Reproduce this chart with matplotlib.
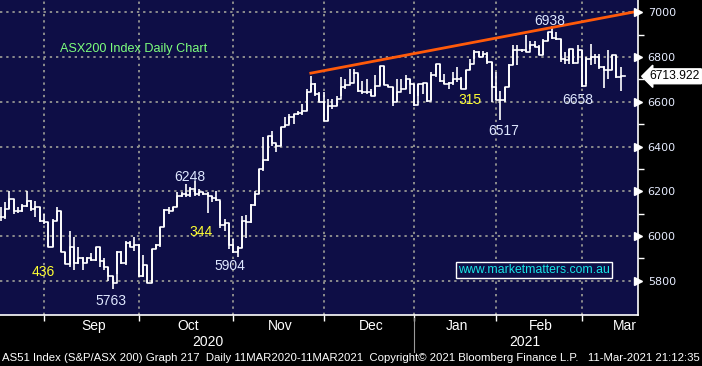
import matplotlib
matplotlib.use("Agg")
import matplotlib.pyplot as plt
from matplotlib import font_manager
from matplotlib.transforms import blended_transform_factory

# ---------------- data ----------------
highs = [6128, 6151, 6200, 6166, 6128, 6143, 6200, 6161, 6158, 6128,
         6098, 6061, 6076, 6128, 6110, 5930, 6024, 5995, 5950, 5905,
         5905, 5925, 5950, 5950, 5900, 5860, 5822, 5934, 5934, 5976,
         5976, 5994, 5965, 5915, 5870, 5942, 5964, 6039, 6121, 6128,
         6131, 6195, 6195, 6233, 6218, 6248, 6210, 6195, 6195, 6180,
         6202, 6157, 6075, 6060, 5986, 5956, 6090, 6093, 6143, 6202,
         6300, 6441, 6449, 6471, 6411, 6486, 6531, 6546, 6546, 6561,
         6591, 6658, 6715, 6685, 6643, 6643, 6613, 6613, 6628, 6710,
         6703, 6748, 6745, 6725, 6695, 6703, 6658, 6718, 6760, 6760,
         6673, 6665, 6703, 6703, 6721, 6703, 6680, 6680, 6683, 6683,
         6733, 6770, 6770, 6725, 6688, 6733, 6755, 6710, 6740, 6793,
         6830, 6827, 6827, 6822, 6778, 6733, 6650, 6665, 6770, 6852,
         6852, 6837, 6897, 6872, 6872, 6852, 6882, 6912, 6938, 6912,
         6882, 6822, 6837, 6837, 6852, 6833, 6800, 6860, 6815, 6815,
         6758, 6833, 6807, 6807, 6755]
lows = [6069, 6076, 6121, 6098, 6101, 6106, 6128, 6113, 6083, 6061,
        6054, 5949, 5949, 6069, 5927, 5874, 5860, 5850, 5874, 5850,
        5880, 5890, 5890, 5860, 5850, 5800, 5763, 5829, 5874, 5870,
        5950, 5934, 5815, 5815, 5790, 5790, 5942, 5949, 6039, 6098,
        6110, 6128, 6173, 6173, 6173, 6180, 6180, 6185, 6101, 6150,
        6157, 6038, 6023, 5941, 5926, 5905, 5948, 5989, 6060, 6135,
        6187, 6292, 6337, 6404, 6374, 6404, 6486, 6501, 6501, 6539,
        6539, 6561, 6643, 6628, 6598, 6516, 6516, 6568, 6583, 6628,
        6658, 6685, 6725, 6643, 6636, 6636, 6628, 6628, 6676, 6673,
        6665, 6583, 6598, 6658, 6658, 6636, 6583, 6628, 6636, 6598,
        6606, 6710, 6688, 6680, 6658, 6673, 6688, 6658, 6658, 6740,
        6793, 6800, 6800, 6770, 6598, 6606, 6519, 6598, 6665, 6763,
        6763, 6822, 6822, 6837, 6845, 6807, 6807, 6872, 6882, 6875,
        6778, 6770, 6770, 6770, 6785, 6666, 6680, 6763, 6770, 6748,
        6663, 6703, 6740, 6707, 6648]
closes = [6084, 6121, 6166, 6113, 6113, 6136, 6158, 6121, 6128, 6069,
          6061, 5952, 6069, 6110, 5927, 5874, 5950, 5880, 5900, 5880,
          5900, 5895, 5950, 5890, 5860, 5820, 5790, 5930, 5880, 5970,
          5950, 5960, 5820, 5870, 5792, 5940, 5960, 6039, 6115, 6110,
          6128, 6180, 6190, 6185, 6210, 6190, 6195, 6190, 6180, 6170,
          6160, 6048, 6060, 5959, 5929, 5948, 6068, 6063, 6138, 6187,
          6300, 6342, 6449, 6416, 6404, 6486, 6497, 6531, 6546, 6550,
          6561, 6643, 6680, 6636, 6598, 6516, 6583, 6583, 6613, 6665,
          6673, 6685, 6730, 6650, 6643, 6643, 6628, 6670, 6760, 6673,
          6668, 6598, 6643, 6658, 6703, 6680, 6586, 6680, 6683, 6605,
          6718, 6770, 6695, 6680, 6683, 6703, 6703, 6658, 6740, 6770,
          6823, 6800, 6815, 6778, 6665, 6606, 6606, 6665, 6763, 6830,
          6830, 6830, 6822, 6852, 6845, 6807, 6870, 6912, 6885, 6882,
          6793, 6785, 6837, 6772, 6830, 6670, 6793, 6800, 6800, 6755,
          6740, 6740, 6807, 6710, 6714]
last_price = "6713.922"

month_start_idx = [10, 32, 54, 75, 96, 115, 135]
month_labels = ["Sep", "Oct", "Nov", "Dec", "Jan", "Feb", "Mar"]
year_labels = ["2020", "2021"]
y_ticks = [5800, 6000, 6200, 6400, 6600, 6800, 7000]

trend_x = [72, 148]
trend_y = [6728, 7005]

# annotations: (text, bar index, value, color)
notes = [("6938", 127.5, 6960, "#dfe8ff"),
         ("6248", 44, 6262, "#dfe8ff"),
         ("5904", 53.3, 5865, "#dfe8ff"),
         ("5763", 25.5, 5710, "#dfe8ff"),
         ("6658", 134, 6610, "#dfe8ff"),
         ("6517", 116.7, 6470, "#dfe8ff"),
         ("315", 109, 6610, "#ffff33"),
         ("344", 46.5, 6020, "#ffff33"),
         ("436", 9.8, 5840, "#ffff33")]

# ---------------- fonts ----------------
_names = {f.name for f in font_manager.fontManager.ttflist}
if "Liberation Sans Narrow" in _names:
    NARROW = ["Liberation Sans Narrow", "DejaVu Sans"]
    SZ = 11.0
else:
    NARROW = ["Liberation Sans", "DejaVu Sans"]
    SZ = 10.0

# ---------------- figure ----------------
W, H = 702, 366
fig = plt.figure(figsize=(W / 100, H / 100), dpi=100, facecolor="black")
ax_h = 315
ax = fig.add_axes([0, 1 - ax_h / H, 638 / W, ax_h / H])
bg = "#0e0e46"
ax.set_facecolor(bg)

n = len(closes)
xs = list(range(n))

# grid
for v in y_ticks:
    ax.axhline(v, color="#8c8c8c", lw=1.4, ls=(0, (1.2, 2.0)), zorder=1)
for m in month_start_idx:
    ax.axvline(m, color="#8c8c8c", lw=1.4, ls=(0, (1.2, 2.0)), zorder=1)

# bars: high-low vertical plus stepped close
ax.vlines(xs, lows, highs, color="white", lw=1.2, zorder=3)
ax.plot(xs + [n], closes + [closes[-1]], drawstyle="steps-post",
        color="white", lw=1.2, zorder=3)

# trend line
ax.plot(trend_x, trend_y, color="#ff5a0a", lw=2.0, zorder=4, clip_on=False)

ax.set_xlim(-0.2, 148.0)
ax.set_ylim(5647, 7055)

for s in ["top", "left"]:
    ax.spines[s].set_visible(False)
ax.spines["right"].set_color("white")
ax.spines["bottom"].set_color("white")
ax.spines["right"].set_linewidth(1.2)
ax.spines["bottom"].set_linewidth(1.2)

ax.yaxis.tick_right()
ax.set_yticks(y_ticks)
ax.set_yticklabels([str(v) for v in y_ticks], color="#e6ecff",
                   fontsize=8.0)
ax.tick_params(axis="y", length=0, pad=7)
ax.set_yticks([v + 100 for v in y_ticks[:-1]], minor=True)
ax.tick_params(axis="y", which="minor", length=4, color="white", width=1)

ax.set_xticks(month_start_idx)
ax.set_xticklabels([])
ax.tick_params(axis="x", length=4, color="white", width=1)

# triangle markers on right axis
tr = blended_transform_factory(ax.transAxes, ax.transData)
ax.plot([1.0] * len(y_ticks), y_ticks, marker=">", ls="none", color="white",
        ms=6, transform=tr, clip_on=False, zorder=5)

xt = ax.get_xaxis_transform()

# month labels (centered in each month)
bounds = month_start_idx + [154]
for i, lab in enumerate(month_labels):
    cx = (bounds[i] + bounds[i + 1]) / 2 + 0.5
    ax.text(cx, -11 / ax_h, lab, transform=xt, ha="center", va="center",
            color="white", fontsize=SZ, family=NARROW)

# year labels and separator
ax.text(48, -27 / ax_h, year_labels[0], transform=xt, ha="center",
        va="center", color="white", fontsize=SZ, family=NARROW)
ax.text(121.8, -27 / ax_h, year_labels[1], transform=xt, ha="center",
        va="center", color="white", fontsize=SZ, family=NARROW)
ax.plot([month_start_idx[4]] * 2, [-3 / ax_h, -37 / ax_h], color="#9a9a9a",
        lw=0.8, transform=xt, clip_on=False)

# annotations
for txt, xi, yv, col in notes:
    ax.text(xi, yv, txt, color=col, fontsize=SZ, ha="center", va="center",
            family=NARROW, zorder=6)

t_title = ax.text(13.8, 6835, "ASX200 Index Daily Chart", color="#7dff7d",
                  fontsize=SZ, ha="left", va="center", family=NARROW, zorder=6)

t_www = ax.text(106.2, 5848, "www.marketmatters.com.au", color="#16e6e6",
                fontsize=SZ, ha="left", va="center", family=NARROW, zorder=6,
                bbox=dict(boxstyle="square,pad=0.2", fc=bg, ec="white", lw=1.0))

# last price tag
t_price = ax.text(1.018, 6714, last_price, transform=tr, color="black",
                  fontsize=SZ, ha="left", va="center", family=NARROW, zorder=7,
                  clip_on=False,
                  bbox=dict(boxstyle="larrow,pad=0.12", fc="white", ec="white"))

# footer
t_foot = fig.text(0.003, 1 - 358 / H,
                  "AS51 Index (S&P/ASX 200) Graph 217  Daily 11MAR2020-11MAR2021  "
                  "Copyright\u00a9 2021 Bloomberg Finance L.P.   11-Mar-2021 21:12:35",
                  color="white", fontsize=SZ, ha="left", va="center",
                  family=NARROW)


def fit(t, width_px):
    r = fig.canvas.get_renderer()
    w = t.get_window_extent(r).width
    t.set_fontsize(t.get_fontsize() * width_px / w)


fit(t_title, 148)
fit(t_www, 152)
fit(t_price, 50)
fit(t_foot, 697)

fig.savefig("out.png", dpi=100, facecolor="black")
